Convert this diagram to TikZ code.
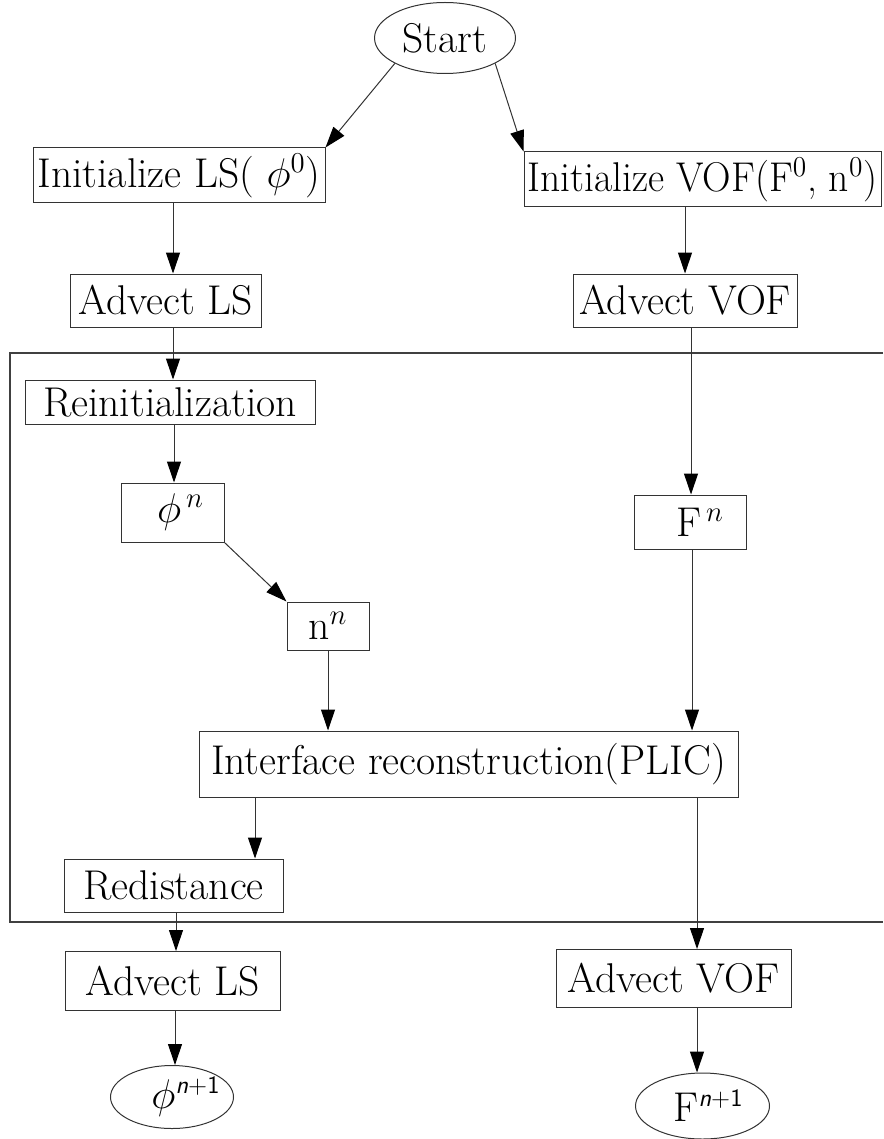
\documentclass[tikz,border=0pt]{standalone}
\usepackage{graphicx}
\usetikzlibrary{arrows.meta,shapes.geometric}
\newcommand{\supnp}{\textsf{\fontsize{12.5}{14}\selectfont\textit{n}+1}}
\begin{document}
\begin{tikzpicture}[x=0.5pt,y=-0.5pt,
  every node/.style={font=\fontsize{20.8}{25}\selectfont},
  box/.style={draw=black!80, line width=0.5pt, inner sep=0pt, rectangle},
  oval/.style={draw=black!80, line width=0.5pt, inner sep=0pt, ellipse},
  arr/.style={draw=black!80, line width=0.5pt, -{Triangle[length=10.5pt,width=7pt,color=black]}},
  frame/.style={draw=black!75, line width=0.6pt}]
\useasboundingbox (0,0) rectangle (883,1139);
% frame around the inner loop (open to the right)
\draw[frame] (883,353) -- (10,353) -- (10,922) -- (883,922);
% nodes
\node[oval, minimum width=70.5pt, minimum height=35.5pt] (start) at (445,38) {Start};
\node[box, minimum width=146pt, minimum height=27.5pt] (initLS) at (179,175.5) {Initialize LS( $\phi^{0}$)\hspace{7pt}};
\node[box, minimum width=178.5pt, minimum height=27.5pt] (initVOF) at (702.5,179.5) {\scalebox{0.95}[1]{Initialize VOF(F$^{0}$, n$^0$)}};
\node[box, minimum width=95.5pt, minimum height=26.5pt] (advLS) at (165.5,300.5) {Advect LS};
\node[box, minimum width=112pt, minimum height=26.5pt] (advVOF) at (685,300.5) {Advect VOF};
\node[box, minimum width=145pt, minimum height=22pt] (reinit) at (170,402) {Reinitialization};
\node[box, minimum width=51.5pt, minimum height=29.5pt] (phin) at (172.5,512.5) {\hspace{8pt}$\phi^{\,n}$};
\node[box, minimum width=56pt, minimum height=27pt] (Fn) at (690,522) {\hspace{10pt}F$^{\,n}$};
\node[box, minimum width=41pt, minimum height=24pt] (nn) at (328,626) {n$^{n}$};
\node[box, minimum width=269.5pt, minimum height=33pt] (iface) at (468.5,764) {Interface reconstruction(PLIC)};
\node[box, minimum width=109.5pt, minimum height=26.5pt] (redist) at (173.5,885.5) {Redistance};
\node[box, minimum width=107.5pt, minimum height=29.5pt] (advLS2) at (172.5,981) {Advect LS};
\node[box, minimum width=117.5pt, minimum height=29pt] (advVOF2) at (673.5,978.5) {Advect VOF};
\node[oval, minimum width=61.5pt, minimum height=31.5pt] (phi1) at (172,1097) {\makebox[0pt]{\hspace{14pt}$\phi^{\supnp}$}};
\node[oval, minimum width=67pt, minimum height=33pt] (F1) at (702.5,1106) {\makebox[0pt]{\hspace{6pt}F$^{\supnp}$}};
% column guides
\coordinate (c173) at (173,0);
\coordinate (c685) at (685,0);
\coordinate (c174) at (174,0);
\coordinate (c691) at (691,0);
\coordinate (c328) at (328,0);
\coordinate (c692) at (692,0);
\coordinate (c255) at (255,0);
\coordinate (c176) at (176,0);
\coordinate (c697) at (697,0);
\coordinate (c175) at (175,0);
% connectors
\draw[arr] (start.south west) -- (initLS.north east);
\draw[arr] (start.south east) -- (initVOF.north west);
\draw[arr] (initLS.south -| c173) -- (advLS.north -| c173);
\draw[arr] (initVOF.south -| c685) -- (advVOF.north -| c685);
\draw[arr] (advLS.south -| c173) -- (reinit.north -| c173);
\draw[arr] (reinit.south -| c174) -- (phin.north -| c174);
\draw[arr] (advVOF.south -| c691) -- (Fn.north -| c691);
\draw[arr] (phin.south east) -- (nn.north west);
\draw[arr] (nn.south -| c328) -- (iface.north -| c328);
\draw[arr] (Fn.south -| c692) -- (iface.north -| c692);
\draw[arr] (iface.south -| c255) -- (redist.north -| c255);
\draw[arr] (redist.south -| c176) -- (advLS2.north -| c176);
\draw[arr] (iface.south -| c697) -- (advVOF2.north -| c697);
\draw[arr] (advLS2.south -| c175) -- (phi1.north -| c175);
\draw[arr] (advVOF2.south -| c697) -- (F1.north -| c697);
\end{tikzpicture}
\end{document}
